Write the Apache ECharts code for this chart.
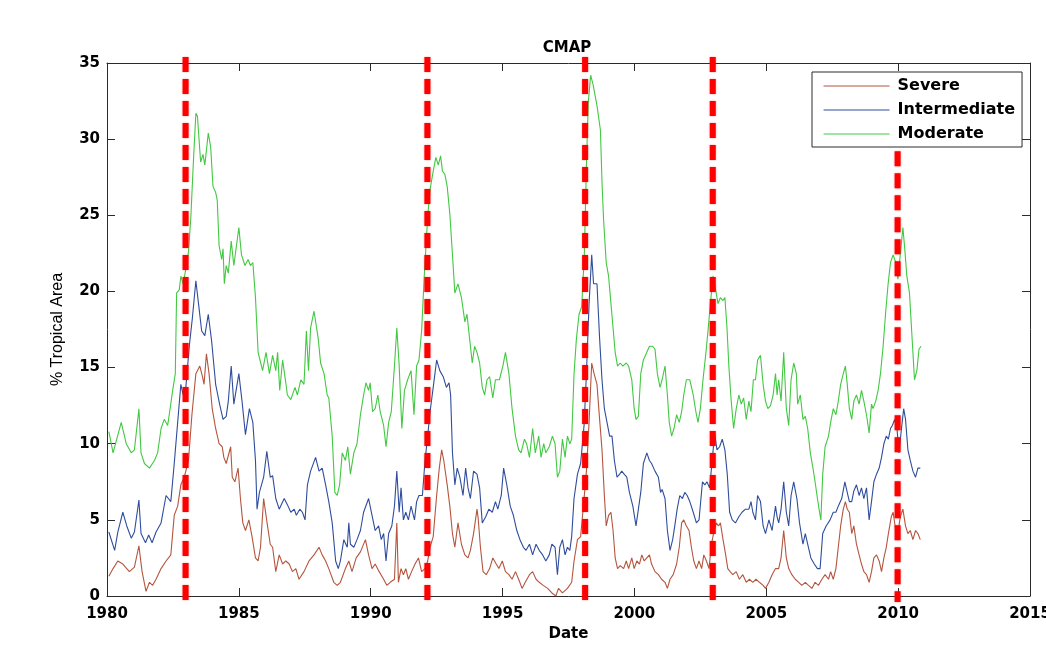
<!DOCTYPE html>
<html>
<head>
<meta charset="utf-8">
<title>CMAP</title>
<script src="https://cdn.jsdelivr.net/npm/echarts@6/dist/echarts.min.js"></script>
<style>
  html, body { margin: 0; padding: 0; background: #ffffff; overflow: hidden; }
  #chart { width: 1046px; height: 646px; }
</style>
</head>
<body>
<div id="chart"></div>
<script>
// Percentage of tropical area in drought, CMAP precipitation, monthly [year, %]
const severe = [
  [1980.07,1.3],[1980.23,1.8],[1980.41,2.3],[1980.60,2.1],[1980.85,1.6],[1981.04,1.9],[1981.21,3.3],[1981.33,1.6],[1981.48,0.3],[1981.61,0.9],[1981.73,0.7],[1981.86,1.1],[1982.05,1.8],[1982.24,2.3],[1982.42,2.7],[1982.55,5.3],[1982.68,5.9],[1982.80,7.3],[1982.93,7.8],[1983.09,8.9],[1983.22,11.9],[1983.37,14.6],[1983.52,15.1],[1983.62,14.4],[1983.68,13.9],[1983.77,15.9],[1983.87,14.6],[1983.99,12.3],[1984.12,11.0],[1984.25,10.0],[1984.37,9.8],[1984.43,9.1],[1984.52,8.7],[1984.69,9.8],[1984.75,7.8],[1984.85,7.5],[1984.97,8.4],[1985.06,6.4],[1985.15,4.8],[1985.25,4.3],[1985.38,5.0],[1985.50,3.9],[1985.63,2.5],[1985.73,2.3],[1985.82,3.2],[1985.94,6.4],[1986.07,4.8],[1986.19,3.4],
  [1986.28,3.2],[1986.40,1.6],[1986.53,2.7],[1986.66,2.1],[1986.78,2.3],[1986.91,2.1],[1987.03,1.6],[1987.16,1.8],[1987.28,1.1],[1987.47,1.6],[1987.66,2.3],[1987.85,2.7],[1988.04,3.2],[1988.16,2.7],[1988.29,2.3],[1988.41,1.8],[1988.60,0.9],[1988.73,0.7],[1988.85,0.9],[1989.04,1.8],[1989.17,2.3],[1989.29,1.6],[1989.45,2.5],[1989.61,2.9],[1989.80,3.7],[1989.92,2.7],[1990.05,1.8],[1990.17,2.1],[1990.32,1.6],[1990.49,1.1],[1990.61,0.7],[1990.74,0.9],[1990.90,1.1],[1990.99,4.8],[1991.05,0.9],[1991.15,1.8],[1991.24,1.4],[1991.33,1.8],[1991.43,1.1],[1991.55,1.6],[1991.68,2.1],[1991.81,2.5],[1991.93,1.6],[1992.06,1.8],[1992.16,2.3],[1992.25,3.2],
  [1992.37,3.9],[1992.50,6.6],[1992.60,8.4],[1992.69,9.6],[1992.77,8.9],[1992.90,7.3],[1993.00,5.9],[1993.10,4.1],[1993.19,3.2],[1993.31,4.8],[1993.44,3.4],[1993.57,2.7],[1993.69,2.5],[1993.78,3.0],[1993.90,4.1],[1994.03,5.7],[1994.07,5.2],[1994.16,3.2],[1994.26,1.6],[1994.38,1.4],[1994.51,1.8],[1994.63,2.5],[1994.76,2.1],[1994.86,1.8],[1994.99,2.3],[1995.11,1.6],[1995.24,1.4],[1995.36,1.1],[1995.49,1.6],[1995.61,1.1],[1995.74,0.5],[1995.86,0.9],[1996.02,1.4],[1996.14,1.6],[1996.27,1.1],[1996.39,0.9],[1996.54,0.7],[1996.71,0.5],[1996.87,0.2],[1997.02,0.0],[1997.12,0.5],[1997.27,0.2],[1997.46,0.5],[1997.62,0.9],[1997.71,2.3],[1997.84,3.7],[1997.96,3.9],[1998.09,6.4],[1998.18,8.2],[1998.28,11.4],[1998.38,15.3],[1998.47,14.6],
  [1998.58,13.9],[1998.68,11.6],[1998.77,9.6],[1998.86,6.6],[1998.93,4.6],[1999.02,5.3],[1999.11,5.5],[1999.19,4.3],[1999.27,2.5],[1999.36,1.8],[1999.46,2.0],[1999.59,1.8],[1999.69,2.3],[1999.78,1.8],[1999.90,2.5],[1999.99,1.8],[2000.09,2.3],[2000.19,2.1],[2000.28,2.7],[2000.37,2.3],[2000.47,2.5],[2000.57,2.7],[2000.65,2.1],[2000.78,1.6],[2000.91,1.4],[2001.03,1.1],[2001.16,0.9],[2001.25,0.5],[2001.35,1.1],[2001.47,1.4],[2001.60,2.1],[2001.70,3.2],[2001.79,4.8],[2001.87,5.0],[2001.97,4.6],[2002.07,4.3],[2002.16,3.2],[2002.25,2.3],[2002.35,1.8],[2002.45,2.3],[2002.55,1.8],[2002.63,2.7],[2002.73,2.3],[2002.83,1.8],[2002.92,3.4],[2003.00,4.1],[2003.10,4.8],[2003.19,4.6],[2003.26,4.8],[2003.36,3.7],[2003.46,2.7],[2003.54,1.8],[2003.63,1.6],[2003.73,1.4],[2003.86,1.6],[2003.98,1.1],[2004.11,1.4],[2004.24,0.9],[2004.36,1.1],[2004.49,0.9],[2004.61,1.1],[2004.74,0.9],
  [2004.88,0.7],[2004.97,0.5],[2005.10,0.9],[2005.22,1.4],[2005.35,1.8],[2005.47,1.8],[2005.56,2.5],[2005.66,4.3],[2005.76,2.5],[2005.85,1.8],[2005.97,1.4],[2006.10,1.1],[2006.23,0.9],[2006.35,0.7],[2006.48,0.9],[2006.60,0.7],[2006.73,0.5],[2006.85,0.9],[2006.98,0.7],[2007.11,1.1],[2007.23,1.4],[2007.36,1.1],[2007.44,1.6],[2007.54,1.1],[2007.64,1.8],[2007.73,3.2],[2007.82,4.6],[2007.92,5.7],[2008.00,6.2],[2008.07,5.7],[2008.15,5.5],[2008.24,4.1],[2008.32,4.6],[2008.42,3.4],[2008.52,2.7],[2008.61,2.1],[2008.70,1.6],[2008.80,1.4],[2008.90,0.9],[2008.99,1.6],[2009.08,2.5],[2009.18,2.7],[2009.28,2.3],[2009.37,1.6],[2009.46,2.5],[2009.55,3.2],[2009.63,4.1],[2009.74,5.2],[2009.81,5.5],[2009.91,4.3],[2009.99,4.1],[2010.08,5.2],[2010.18,5.7],[2010.28,4.6],[2010.37,4.1],[2010.46,4.3],[2010.56,3.7],[2010.66,4.3],[2010.75,4.1],[2010.84,3.7]
];

const intermediate = [
  [1980.07,4.2],[1980.29,3.0],[1980.41,4.2],[1980.60,5.5],[1980.75,4.6],[1980.92,3.8],[1981.04,4.2],[1981.21,6.3],[1981.29,4.1],[1981.46,3.5],[1981.58,4.0],[1981.71,3.5],[1981.86,4.2],[1982.05,4.8],[1982.24,6.6],[1982.42,6.2],[1982.55,8.7],[1982.68,11.4],[1982.80,13.9],[1982.89,13.2],[1982.99,13.7],[1983.12,16.4],[1983.24,18.3],[1983.37,20.7],[1983.47,19.2],[1983.59,17.4],[1983.71,17.1],[1983.84,18.5],[1983.97,16.7],[1984.12,13.9],[1984.27,12.6],[1984.40,11.6],[1984.52,11.8],[1984.60,12.8],[1984.71,15.1],[1984.81,12.6],[1985.00,14.6],[1985.12,12.8],[1985.25,10.6],[1985.40,12.3],[1985.53,11.4],[1985.63,8.9],[1985.69,5.7],[1985.78,6.8],[1985.94,7.8],[1986.06,9.5],[1986.19,7.8],
  [1986.28,7.9],[1986.40,6.4],[1986.53,5.7],[1986.72,6.4],[1986.84,6.0],[1986.97,5.5],[1987.10,5.7],[1987.18,5.3],[1987.31,5.7],[1987.41,5.5],[1987.51,5.0],[1987.60,7.3],[1987.72,8.2],[1987.91,9.1],[1988.04,8.2],[1988.16,8.4],[1988.29,7.3],[1988.41,6.2],[1988.54,4.8],[1988.67,2.3],[1988.77,1.8],[1988.85,2.3],[1988.98,3.7],[1989.11,3.2],[1989.17,4.8],[1989.23,3.4],[1989.36,3.2],[1989.48,3.7],[1989.61,4.3],[1989.73,5.5],[1989.92,6.4],[1990.05,5.3],[1990.17,4.3],[1990.30,4.6],[1990.40,3.7],[1990.49,4.1],[1990.58,2.3],[1990.68,4.1],[1990.80,4.6],[1990.90,5.9],[1990.99,8.2],[1991.08,5.5],[1991.15,7.1],[1991.24,5.0],[1991.33,5.5],[1991.43,5.0],[1991.53,5.9],[1991.66,5.0],[1991.74,6.2],[1991.83,6.6],[1991.96,6.6],[1992.06,8.9],[1992.16,10.5],[1992.25,12.1],
  [1992.37,13.7],[1992.50,15.5],[1992.62,14.8],[1992.75,14.4],[1992.87,13.7],[1992.97,14.0],[1993.03,13.2],[1993.10,9.4],[1993.19,7.3],[1993.28,8.4],[1993.38,7.8],[1993.50,6.6],[1993.60,8.4],[1993.69,7.1],[1993.78,6.4],[1993.90,8.2],[1994.03,8.0],[1994.13,7.1],[1994.23,4.8],[1994.36,5.2],[1994.48,5.7],[1994.61,5.5],[1994.73,6.2],[1994.82,5.7],[1994.95,6.6],[1995.04,8.4],[1995.16,7.3],[1995.29,5.9],[1995.41,5.3],[1995.54,4.3],[1995.66,3.7],[1995.79,3.2],[1995.89,3.0],[1996.02,3.4],[1996.14,2.7],[1996.27,3.4],[1996.39,3.0],[1996.52,2.7],[1996.64,2.3],[1996.77,2.7],[1996.87,3.4],[1996.99,3.2],[1997.08,1.4],[1997.17,3.2],[1997.27,3.7],[1997.37,2.7],[1997.46,3.2],[1997.55,3.0],[1997.62,3.9],[1997.71,6.4],[1997.84,8.0],[1997.96,8.7],[1998.09,11.2],[1998.18,14.6],[1998.28,19.2],[1998.38,22.4],[1998.45,20.5],
  [1998.58,20.5],[1998.68,16.9],[1998.77,14.2],[1998.86,12.3],[1998.96,11.4],[1999.06,10.5],[1999.15,10.5],[1999.24,8.9],[1999.34,7.8],[1999.44,8.0],[1999.52,8.2],[1999.61,8.0],[1999.71,7.8],[1999.81,6.8],[1999.94,5.9],[2000.06,4.6],[2000.15,5.7],[2000.24,6.8],[2000.34,8.7],[2000.47,9.4],[2000.57,8.9],[2000.65,8.7],[2000.78,8.2],[2000.91,7.8],[2000.99,6.8],[2001.05,7.0],[2001.16,6.4],[2001.25,4.3],[2001.35,3.0],[2001.45,3.7],[2001.53,4.6],[2001.62,5.7],[2001.72,6.6],[2001.82,6.4],[2001.91,6.8],[2002.00,6.6],[2002.10,6.2],[2002.23,5.5],[2002.35,4.8],[2002.45,5.0],[2002.58,7.5],[2002.67,7.3],[2002.75,7.5],[2002.85,7.1],[2002.95,8.9],[2003.04,10.7],[2003.13,9.6],[2003.23,9.8],[2003.33,10.3],[2003.43,9.6],[2003.52,8.0],[2003.61,5.5],[2003.71,5.0],[2003.83,4.8],[2003.96,5.2],[2004.08,5.5],[2004.21,5.7],[2004.34,5.7],[2004.42,6.2],[2004.49,5.5],[2004.59,5.0],[2004.67,6.6],
  [2004.78,6.2],[2004.88,4.6],[2004.97,4.1],[2005.10,5.0],[2005.22,4.3],[2005.35,5.9],[2005.41,5.2],[2005.47,4.8],[2005.56,5.7],[2005.66,7.5],[2005.76,5.5],[2005.85,4.6],[2005.94,6.6],[2006.04,7.5],[2006.16,6.4],[2006.26,4.8],[2006.39,3.4],[2006.48,4.1],[2006.57,3.4],[2006.69,2.5],[2006.82,2.1],[2006.94,1.8],[2007.04,1.8],[2007.14,4.1],[2007.27,4.6],[2007.42,5.0],[2007.54,5.5],[2007.64,5.5],[2007.73,5.9],[2007.86,6.4],[2007.98,7.5],[2008.07,6.8],[2008.15,6.2],[2008.24,6.2],[2008.32,6.9],[2008.42,7.3],[2008.52,6.6],[2008.61,7.1],[2008.70,6.4],[2008.80,7.1],[2008.90,5.0],[2008.99,6.2],[2009.08,7.5],[2009.18,8.0],[2009.28,8.4],[2009.37,9.1],[2009.46,10.0],[2009.55,10.5],[2009.63,10.3],[2009.71,11.0],[2009.78,11.2],[2009.87,11.6],[2009.96,10.9],[2010.03,9.4],[2010.12,10.9],[2010.21,12.3],[2010.28,11.6],[2010.37,9.6],[2010.46,8.9],[2010.56,8.2],[2010.66,7.8],[2010.75,8.4],[2010.84,8.4]
];

const moderate = [
  [1980.07,10.8],[1980.23,9.4],[1980.54,11.4],[1980.73,10.0],[1980.92,9.4],[1981.04,9.6],[1981.21,12.3],[1981.29,9.4],[1981.42,8.7],[1981.61,8.4],[1981.80,8.9],[1981.92,9.4],[1982.05,11.0],[1982.17,11.6],[1982.30,11.2],[1982.36,11.9],[1982.49,13.5],[1982.59,14.6],[1982.64,19.9],[1982.74,20.1],[1982.80,21.0],[1982.89,20.5],[1982.99,21.5],[1983.09,22.6],[1983.18,24.9],[1983.27,28.3],[1983.37,31.7],[1983.43,31.5],[1983.55,28.5],[1983.64,29.0],[1983.71,28.3],[1983.84,30.4],[1983.93,29.5],[1984.02,26.9],[1984.12,26.5],[1984.18,26.0],[1984.25,23.0],[1984.35,22.1],[1984.40,22.8],[1984.45,20.5],[1984.52,21.7],[1984.60,21.2],[1984.71,23.3],[1984.81,21.7],[1985.00,24.2],[1985.10,22.4],[1985.23,21.7],[1985.35,22.1],[1985.44,21.7],[1985.53,21.9],[1985.63,19.6],[1985.73,16.0],[1985.83,15.3],[1985.90,14.8],[1986.03,16.0],[1986.16,14.6],
  [1986.28,15.8],[1986.40,14.8],[1986.47,16.0],[1986.55,13.5],[1986.66,15.5],[1986.78,14.0],[1986.84,13.2],[1986.97,12.9],[1987.03,12.8],[1987.13,13.7],[1987.22,13.2],[1987.35,14.2],[1987.47,13.9],[1987.56,17.4],[1987.64,14.8],[1987.72,17.6],[1987.85,18.7],[1987.91,18.6],[1988.01,16.9],[1988.10,15.3],[1988.23,14.6],[1988.35,13.2],[1988.41,13.0],[1988.54,10.5],[1988.64,6.8],[1988.73,6.6],[1988.82,7.3],[1988.92,9.4],[1989.04,8.9],[1989.13,9.8],[1989.23,8.0],[1989.36,9.4],[1989.48,10.0],[1989.61,11.9],[1989.73,13.2],[1989.82,14.0],[1989.92,13.5],[1989.98,14.0],[1990.07,12.1],[1990.17,12.3],[1990.27,13.2],[1990.36,12.1],[1990.49,11.2],[1990.58,9.8],[1990.68,11.4],[1990.78,12.1],[1990.90,15.1],[1990.99,17.6],[1991.08,15.1],[1991.18,11.0],[1991.28,13.5],[1991.40,14.2],[1991.53,14.8],[1991.64,11.9],[1991.74,15.1],[1991.83,15.5],[1991.93,17.4],[1992.03,21.0],[1992.16,24.9],[1992.25,26.7],
  [1992.37,27.9],[1992.47,28.8],[1992.56,28.3],[1992.65,28.9],[1992.72,27.9],[1992.81,27.7],[1992.90,26.9],[1993.00,25.1],[1993.10,22.4],[1993.19,19.9],[1993.31,20.5],[1993.44,19.6],[1993.57,18.0],[1993.65,18.5],[1993.75,16.9],[1993.85,15.3],[1993.94,16.4],[1994.03,16.0],[1994.13,15.3],[1994.23,13.7],[1994.32,13.2],[1994.41,14.2],[1994.51,14.4],[1994.63,13.0],[1994.73,14.2],[1994.88,14.2],[1995.01,15.1],[1995.11,16.0],[1995.24,14.6],[1995.36,12.3],[1995.49,10.5],[1995.61,9.6],[1995.70,9.4],[1995.83,10.3],[1995.91,10.0],[1996.02,9.1],[1996.14,11.0],[1996.24,9.4],[1996.37,10.5],[1996.46,9.1],[1996.56,10.0],[1996.64,9.4],[1996.77,9.8],[1996.89,10.5],[1996.99,10.0],[1997.08,7.8],[1997.17,8.2],[1997.27,10.3],[1997.37,9.1],[1997.46,10.5],[1997.55,10.0],[1997.62,10.3],[1997.71,14.6],[1997.80,16.9],[1997.90,18.5],[1998.00,19.0],[1998.10,22.4],[1998.18,28.3],[1998.25,32.4],[1998.34,34.2],[1998.43,33.6],
  [1998.58,32.2],[1998.71,30.6],[1998.77,27.2],[1998.83,24.7],[1998.93,21.9],[1999.02,21.0],[1999.11,19.2],[1999.19,17.6],[1999.27,16.0],[1999.36,15.1],[1999.46,15.3],[1999.56,15.1],[1999.69,15.3],[1999.78,15.1],[1999.90,14.2],[1999.99,12.3],[2000.06,11.6],[2000.15,11.8],[2000.24,14.6],[2000.34,15.5],[2000.47,16.0],[2000.57,16.4],[2000.69,16.4],[2000.78,16.2],[2000.87,14.6],[2000.97,13.7],[2001.05,14.2],[2001.16,15.1],[2001.25,13.2],[2001.32,11.4],[2001.41,10.5],[2001.50,11.0],[2001.60,11.9],[2001.70,11.4],[2001.79,12.1],[2001.87,13.2],[2001.97,14.2],[2002.10,14.2],[2002.23,13.2],[2002.33,12.1],[2002.41,11.4],[2002.50,12.3],[2002.60,14.2],[2002.70,15.8],[2002.79,17.4],[2002.88,19.2],[2002.98,21.0],[2003.08,20.1],[2003.17,19.2],[2003.26,19.6],[2003.36,19.4],[2003.43,19.6],[2003.51,17.6],[2003.58,15.1],[2003.67,12.8],[2003.76,11.0],[2003.86,12.3],[2003.96,13.2],[2004.05,12.6],[2004.14,13.0],[2004.24,11.6],[2004.34,12.8],[2004.42,12.1],[2004.51,14.2],[2004.59,14.2],[2004.67,15.5],
  [2004.78,15.8],[2004.88,13.9],[2004.97,12.8],[2005.06,12.3],[2005.16,12.5],[2005.26,13.2],[2005.35,14.6],[2005.41,13.2],[2005.47,14.2],[2005.56,12.8],[2005.66,16.0],[2005.76,12.3],[2005.85,11.2],[2005.94,14.2],[2006.04,15.3],[2006.14,14.6],[2006.19,12.6],[2006.29,13.2],[2006.39,11.6],[2006.48,11.8],[2006.57,11.0],[2006.67,9.4],[2006.77,8.4],[2006.85,7.5],[2006.94,6.4],[2007.02,5.5],[2007.07,5.0],[2007.14,8.0],[2007.23,9.8],[2007.36,10.5],[2007.44,11.4],[2007.54,12.3],[2007.64,11.9],[2007.73,12.8],[2007.82,13.9],[2007.92,14.6],[2008.00,15.1],[2008.07,13.9],[2008.15,12.3],[2008.24,11.6],[2008.32,12.8],[2008.42,13.2],[2008.52,12.6],[2008.61,13.5],[2008.70,12.8],[2008.80,11.9],[2008.90,10.7],[2008.99,12.6],[2009.05,12.3],[2009.15,12.8],[2009.24,13.5],[2009.33,14.6],[2009.43,16.4],[2009.53,18.7],[2009.62,20.5],[2009.71,21.9],[2009.81,22.4],[2009.91,21.9],[2009.99,20.8],[2010.08,22.4],[2010.18,24.2],[2010.26,22.6],[2010.33,21.0],[2010.43,19.9],[2010.53,16.9],[2010.62,14.2],[2010.71,14.8],[2010.79,16.2],[2010.87,16.4]
];

// El Niño onsets marked with vertical dashed lines: year, upper end (%), lower end (%)
const eventYears = [1982.98, 1992.15, 1998.13, 2002.97, 2009.98];
const eventTops = [35.4, 35.4, 35.4, 35.4, 29.2];
const eventBottom = -0.4;

const seriesNames = ['Severe', 'Intermediate', 'Moderate'];
const seriesColors = ['#b4553e', '#2f4d9c', '#42c842'];
const xTicks = { min: 1980, max: 2015, step: 5 };
const yTicks = { min: 0, max: 35, step: 5 };

const axisColor = '#2a2a2a';
const labelFont = { fontFamily: 'DejaVu Sans', fontWeight: 'bold', fontSize: 15, color: '#000' };

function frameAxis(extra) {
  return Object.assign({
    type: 'value',
    axisLine: { show: true, onZero: false, lineStyle: { color: axisColor, width: 1 } },
    axisTick: { show: true, inside: true, length: 8, lineStyle: { color: axisColor, width: 1 } },
    splitLine: { show: false }
  }, extra);
}

const chart = echarts.init(document.getElementById('chart'), null, { renderer: 'canvas' });

const lineSeries = [severe, intermediate, moderate].map((data, i) => ({
  name: seriesNames[i],
  type: 'line',
  data: data,
  symbol: 'none',
  showSymbol: false,
  color: seriesColors[i],
  lineStyle: { color: seriesColors[i], width: 1.1 },
  z: 2
}));

const eventSeries = eventYears.map((yr, i) => ({
  type: 'line',
  data: [[yr, eventTops[i]], [yr, eventBottom]],
  symbol: 'none',
  clip: false,
  silent: true,
  lineStyle: { color: '#ff0000', width: 6, type: [15, 7], cap: 'butt', shadowBlur: 2, shadowColor: 'rgba(255,0,0,0.45)' },
  z: 5
}));

chart.setOption({
  animation: false,
  backgroundColor: '#ffffff',
  title: {
    text: 'CMAP',
    left: 562,
    top: 36,
    textAlign: 'center',
    textStyle: { fontFamily: 'DejaVu Sans', fontWeight: 'bold', fontSize: 15, color: '#000' }
  },
  legend: {
    data: seriesNames,
    orient: 'vertical',
    left: 812,
    top: 72,
    padding: [6, 7, 5, 11],
    itemWidth: 66,
    itemHeight: 14,
    itemGap: 8,
    selectedMode: false,
    backgroundColor: '#ffffff',
    borderColor: axisColor,
    borderWidth: 1,
    borderRadius: 0,
    itemStyle: { opacity: 0 },
    lineStyle: { width: 1.1 },
    textStyle: Object.assign({}, labelFont, { fontSize: 16, padding: [0, 0, 0, 3] })
  },
  grid: { left: 107, right: 16, top: 63, bottom: 50, containLabel: false, outerBoundsMode: 'none' },
  xAxis: [
    frameAxis({
      position: 'bottom', min: xTicks.min, max: xTicks.max, interval: xTicks.step,
      axisLabel: Object.assign({ margin: 11, formatter: v => String(v) }, labelFont),
      name: 'Date', nameLocation: 'middle', nameGap: 31,
      nameTextStyle: Object.assign({}, labelFont, { fontSize: 15 })
    }),
    frameAxis({
      position: 'top', min: xTicks.min, max: xTicks.max, interval: xTicks.step,
      axisLabel: { show: false }
    })
  ],
  yAxis: [
    frameAxis({
      position: 'left', min: yTicks.min, max: yTicks.max, interval: yTicks.step,
      axisLabel: Object.assign({ margin: 7, formatter: v => String(v) }, labelFont),
      name: '% Tropical Area', nameLocation: 'middle', nameGap: 41, nameRotate: 90,
      nameTextStyle: { fontFamily: 'Liberation Sans', fontSize: 16, color: '#000' }
    }),
    frameAxis({
      position: 'right', min: yTicks.min, max: yTicks.max, interval: yTicks.step,
      axisLabel: { show: false }
    })
  ],
  series: lineSeries.concat(eventSeries)
});
</script>
</body>
</html>
